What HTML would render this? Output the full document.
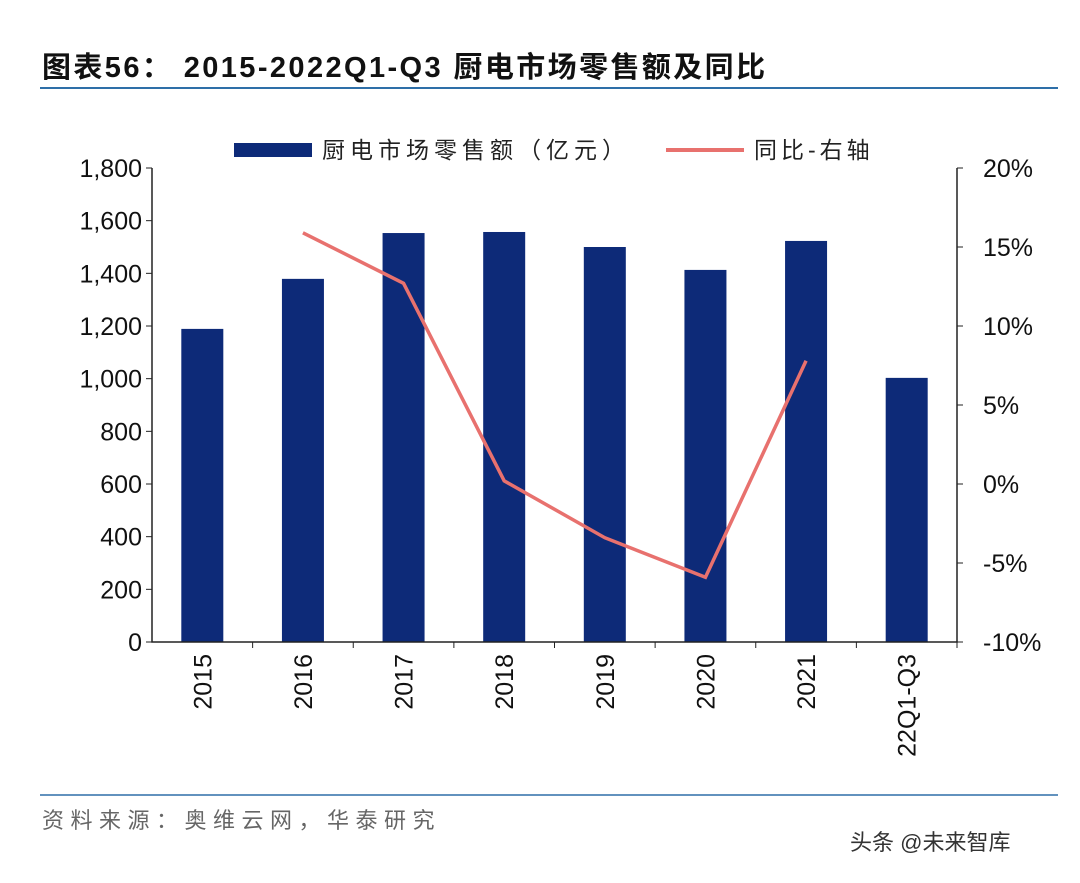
<!DOCTYPE html>
<html><head><meta charset="utf-8"><style>
body{margin:0;background:#fff;width:1080px;height:878px;overflow:hidden;font-family:"Liberation Sans","Noto Sans CJK SC",sans-serif}
</style></head><body>
<svg id="c" width="1080" height="878" xmlns="http://www.w3.org/2000/svg">
<text x="42" y="77" font-size="29" font-weight="bold" fill="#111" letter-spacing="2.4" font-family="Liberation Sans,Noto Sans CJK SC,sans-serif">图表56：  2015-2022Q1-Q3 厨电市场零售额及同比</text>
<line x1="40" y1="88" x2="1058" y2="88" stroke="#2e6fa8" stroke-width="2"/>
<g>
<rect x="234" y="143" width="78" height="14" fill="#0d2a78"/>
<text x="322" y="158" font-size="23" letter-spacing="5" fill="#222">厨电市场零售额（亿元）</text>
<line x1="666" y1="150" x2="744" y2="150" stroke="#e8716e" stroke-width="4"/>
<text x="754" y="158" font-size="23" letter-spacing="4" fill="#222">同比-右轴</text>
</g>
<g id="plot"></g>
<line x1="40" y1="795" x2="1058" y2="795" stroke="#2e6fa8" stroke-width="1.5"/>
<text x="42" y="828" font-size="22" fill="#666" letter-spacing="6.5">资料来源：奥维云网，华泰研究</text>
<text x="850" y="850" font-size="22" fill="#333">头条 @未来智库</text>
</svg>
<script>
const categories=["2015","2016","2017","2018","2019","2020","2021","22Q1-Q3"];
const salesValues=[1189,1379,1553,1557,1500,1413,1523,1003];
const yoyValues=[null,15.9,12.7,0.2,-3.4,-5.9,7.8,null];
const leftTicks=[0,200,400,600,800,1000,1200,1400,1600,1800];
const rightTicks=[-10,-5,0,5,10,15,20];
const NS="http://www.w3.org/2000/svg";
const g=document.getElementById('plot');
const X0=152,X1=957,Y0=642,Y1=168;
const step=(X1-X0)/categories.length;
const xc=i=>X0+step*(i+0.5);
const yL=v=>Y0-(v/1800)*(Y0-Y1);
const yR=v=>Y0-((v+10)/30)*(Y0-Y1);
function mk(t,a){const e=document.createElementNS(NS,t);for(const k in a)e.setAttribute(k,a[k]);g.appendChild(e);return e;}
salesValues.forEach((v,i)=>{
 const r=mk('rect',{x:xc(i)-21,y:yL(v),width:42,height:Y0-yL(v),fill:'#0d2a78'});
 
 
});
let pts=[];yoyValues.forEach((v,i)=>{if(v!==null)pts.push(xc(i)+','+yR(v));});
const pl=mk('polyline',{points:pts.join(' '),fill:'none',stroke:'#e8716e','stroke-width':3.5});


const ax=mk('path',{d:`M${X0},${Y1}V${Y0}H${X1}V${Y1}`,fill:'none',stroke:'#222','stroke-width':1.5});


leftTicks.forEach(v=>{
 const y=yL(v);mk('line',{x1:X0-6,y1:y,x2:X0,y2:y,stroke:'#222'});
 const t=mk('text',{x:X0-10,y:y+9,'font-size':25,'text-anchor':'end',fill:'#111'});
 t.textContent=v.toLocaleString('en-US');
 
 
});
rightTicks.forEach(v=>{
 const y=yR(v);mk('line',{x1:X1,y1:y,x2:X1+6,y2:y,stroke:'#222'});
 const t=mk('text',{x:X1+26,y:y+9,'font-size':25,fill:'#111'});
 t.textContent=v+'%';
 
 
});
categories.forEach((c,i)=>{
 const xe=X0+step*(i+1);mk('line',{x1:xe,y1:Y0,x2:xe,y2:Y0+6,stroke:'#222'});
 const t=mk('text',{x:0,y:0,'font-size':25,'text-anchor':'end',fill:'#111',transform:`translate(${xc(i)+9},${Y0+12}) rotate(-90)`});
 t.textContent=c;
 
 
});
</script>
</body></html>
